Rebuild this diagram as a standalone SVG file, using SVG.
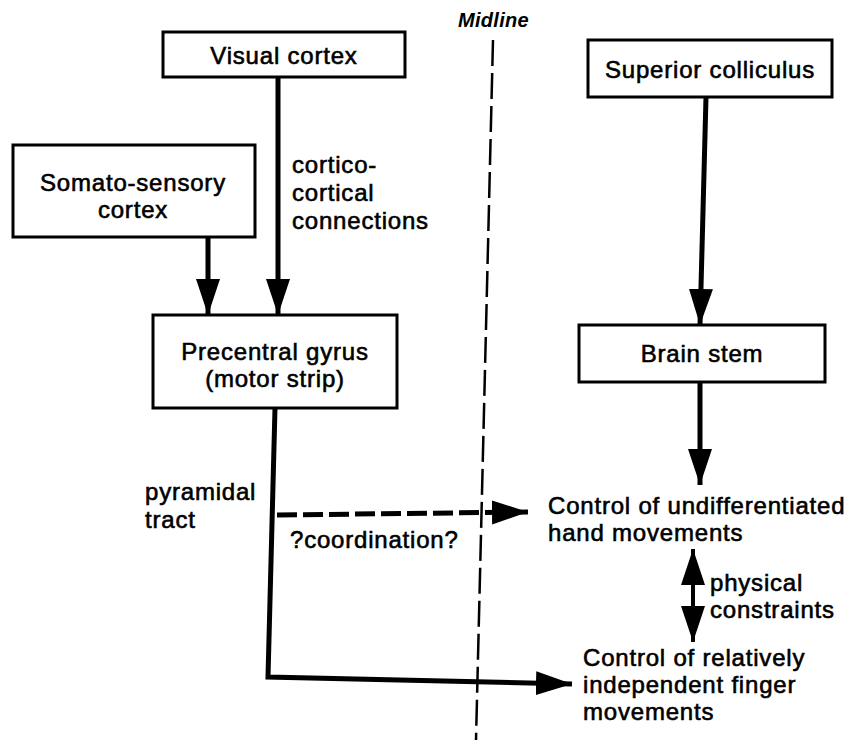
<svg xmlns="http://www.w3.org/2000/svg" width="863" height="740" viewBox="0 0 863 740">
<defs>
<style>
.box{fill:#fff;stroke:#000;stroke-width:3}
.t{font-family:"Liberation Sans",Arial,sans-serif;font-size:24px;fill:#000;stroke:#000;stroke-width:0.6;letter-spacing:0.8px}
.c{text-anchor:middle}
.ln{fill:none;stroke:#000;stroke-width:5}
</style>
<marker id="ah" markerUnits="userSpaceOnUse" markerWidth="38" markerHeight="26" refX="36" refY="12" orient="auto" viewBox="0 0 38 26">
<path d="M0,0 L36,12 L0,24 Z" fill="#000"/>
</marker>
<marker id="ahs" markerUnits="userSpaceOnUse" markerWidth="38" markerHeight="26" refX="36" refY="12" orient="auto-start-reverse" viewBox="0 0 38 26">
<path d="M0,0 L36,12 L0,24 Z" fill="#000"/>
</marker>
</defs>
<rect width="863" height="740" fill="#fff"/>

<g id="midline">
<line x1="493" y1="40" x2="476" y2="740" stroke="#000" stroke-width="2.5" stroke-dasharray="26 7"/>
<text x="458" y="27" font-family="Liberation Sans, Arial, sans-serif" font-size="20" font-weight="bold" font-style="italic" letter-spacing="0.3">Midline</text>
</g>

<g id="connectors">
<line class="ln" x1="278" y1="77" x2="278" y2="315" marker-end="url(#ah)"/>
<line class="ln" x1="208" y1="237" x2="208" y2="315" marker-end="url(#ah)"/>
<line class="ln" x1="706" y1="97" x2="700" y2="325" marker-end="url(#ah)"/>
<line class="ln" x1="700" y1="382" x2="700" y2="485" marker-end="url(#ah)"/>
<path class="ln" d="M275,408 L268,677 L572,684" marker-end="url(#ah)"/>
<line class="ln" x1="277" y1="515" x2="528" y2="512" stroke-dasharray="20 6" marker-end="url(#ah)"/>
<line x1="693" y1="549" x2="693" y2="642" stroke="#000" stroke-width="4" marker-start="url(#ahs)" marker-end="url(#ah)"/>
</g>

<g id="visual-cortex">
<rect class="box" x="163" y="32" width="242" height="45"/>
<text class="t c" x="284" y="64">Visual cortex</text>
</g>

<g id="somato-sensory">
<rect class="box" x="13" y="145" width="242" height="92"/>
<text class="t c" x="133" y="191">Somato-sensory</text>
<text class="t c" x="133" y="218">cortex</text>
</g>

<g id="precentral-gyrus">
<rect class="box" x="153" y="315" width="244" height="93"/>
<text class="t c" x="275" y="360">Precentral gyrus</text>
<text class="t c" x="275" y="387">(motor strip)</text>
</g>

<g id="superior-colliculus">
<rect class="box" x="588" y="40" width="244" height="57"/>
<text class="t c" x="710" y="78">Superior colliculus</text>
</g>

<g id="brain-stem">
<rect class="box" x="579" y="325" width="246" height="57"/>
<text class="t c" x="702" y="362">Brain stem</text>
</g>

<g id="undifferentiated">
<text class="t" x="548" y="514">Control of undifferentiated</text>
<text class="t" x="548" y="541">hand movements</text>
</g>

<g id="independent">
<text class="t" x="583" y="666">Control of relatively</text>
<text class="t" x="583" y="693">independent finger</text>
<text class="t" x="583" y="720">movements</text>
</g>

<g id="labels">
<text class="t" x="292" y="173">cortico-</text>
<text class="t" x="292" y="201">cortical</text>
<text class="t" x="292" y="229">connections</text>
<text class="t" x="145" y="500">pyramidal</text>
<text class="t" x="145" y="528">tract</text>
<text class="t" x="290" y="548">?coordination?</text>
<text class="t" x="710" y="591">physical</text>
<text class="t" x="710" y="618">constraints</text>
</g>
</svg>
